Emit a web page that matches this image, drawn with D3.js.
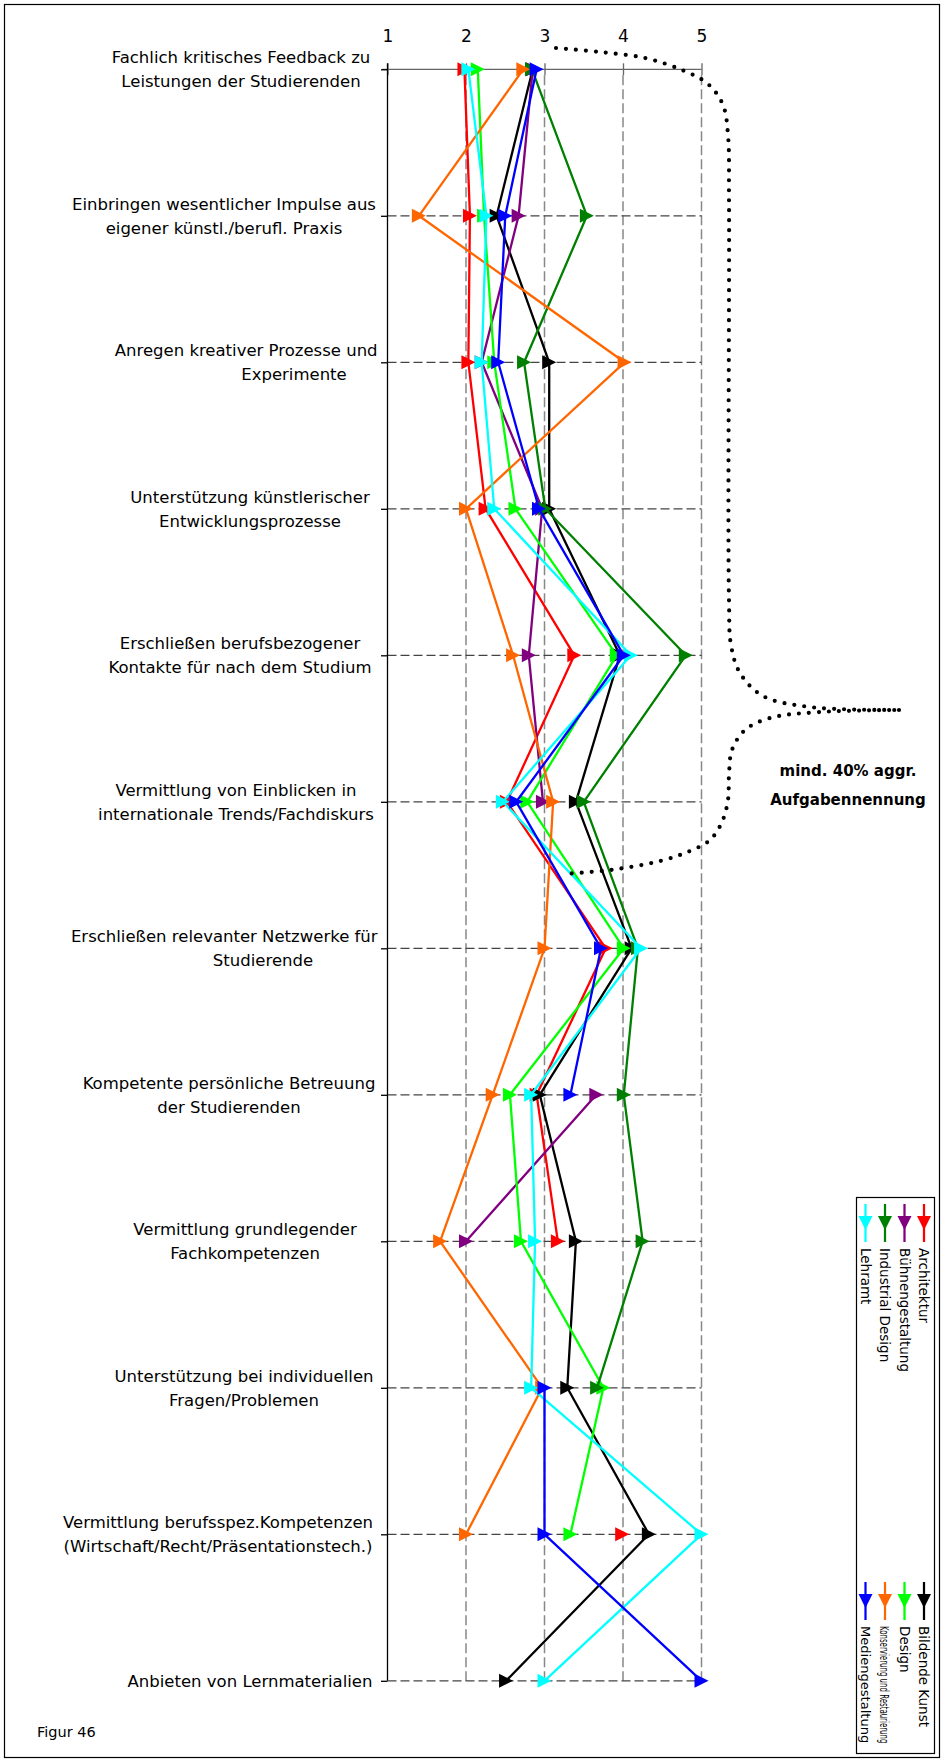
<!DOCTYPE html>
<html><head><meta charset="utf-8">
<script src="https://cdn.jsdelivr.net/npm/d3@7"></script>
<style>body{margin:0;background:#fff} svg{display:block} text{font-family:"DejaVu Sans",sans-serif}</style>
</head><body><svg id="c" width="944" height="1762"></svg>
<script>
const categories = [
  ["Fachlich kritisches Feedback zu", "Leistungen der Studierenden"],
  ["Einbringen wesentlicher Impulse aus", "eigener künstl./berufl. Praxis"],
  ["Anregen kreativer Prozesse und", "Experimente"],
  ["Unterstützung künstlerischer", "Entwicklungsprozesse"],
  ["Erschließen berufsbezogener", "Kontakte für nach dem Studium"],
  ["Vermittlung von Einblicken in", "internationale Trends/Fachdiskurs"],
  ["Erschließen relevanter Netzwerke für", "Studierende"],
  ["Kompetente persönliche Betreuung", "der Studierenden"],
  ["Vermittlung grundlegender", "Fachkompetenzen"],
  ["Unterstützung bei individuellen", "Fragen/Problemen"],
  ["Vermittlung berufsspez.Kompetenzen", "(Wirtschaft/Recht/Präsentationstech.)"],
  ["Anbieten von Lernmaterialien"]
];
const valueTicks = [1, 2, 3, 4, 5];
const seriesNames = ["Architektur", "Bildende Kunst", "Bühnengestaltung", "Design",
  "Industrial Design", "Konservierung und Restaurierung", "Lehramt", "Mediengestaltung"];
const seriesColors = ["#ff0000", "#000000", "#800080", "#00ff00", "#008000", "#ff6600", "#00ffff", "#0000ff"];

const architektur      = [1.98, 2.05, 2.03, 2.25, 3.38, 2.52, 3.78, 2.90, 3.17, null, 3.99, null];
const bildendeKunst    = [2.85, 2.39, 3.06, 3.06, 3.96, 3.40, 4.11, 2.94, 3.40, 3.29, 4.33, 2.51];
const buehnen          = [2.85, 2.67, 2.20, 2.97, 2.80, 2.98, null, 3.66, 2.00, null, null, null];
const design           = [2.15, 2.23, 2.36, 2.63, 3.92, 2.78, 4.01, 2.56, 2.70, 3.75, 3.33, null];
const industrialDesign = [2.84, 3.54, 2.74, 3.01, 4.80, 3.50, 4.19, 4.01, 4.25, 3.67, null, null];
const konservierung    = [2.73, 1.40, 4.02, 2.00, 2.60, 3.11, 3.00, 2.34, 1.67, 2.97, 2.00, null];
const lehramt          = [2.03, 2.26, 2.20, 2.36, 4.10, 2.47, 4.23, 2.83, 2.88, 2.83, 5.00, 3.00];
const medien           = [2.90, 2.50, 2.41, 2.93, 4.01, 2.64, 3.72, 3.33, null, 3.00, 3.00, 5.00];
const seriesValues = [architektur, bildendeKunst, buehnen, design, industrialDesign, konservierung, lehramt, medien];

const annotationLines = ["mind. 40% aggr.", "Aufgabennennung"];
const figureLabel = "Figur 46";

// layout only (screen pixels): horizontal centre of each category label block
const labelCenters = [241, 224, 294, 250, 240, 236, 263, 229, 245, 244, 218, 250];
// decorative dotted brace (screen coordinates)
const braceTop = [[556,48],[600,52],[645,58],[682,70],[708,84],[723,105],[728,135],[729,200],[729,600],[731,645],[740,673],[763,696],[810,707],[899,710]];
const braceBottom = [[899,710],[820,712],[770,718],[745,730],[732,750],[729,775],[728,800],[722,822],[710,840],[690,851],[660,861],[610,870],[562,874]];

const svg = d3.select("#c");
const x = d3.scaleLinear().domain([1, 5]).range([387.5, 701.5]);
const y = d3.scalePoint().domain(d3.range(categories.length)).range([69.3, 1680.8]);
const y0 = y(0), yN = y(categories.length - 1);

svg.append("rect").attr("x", 4.5).attr("y", 4.5).attr("width", 935).attr("height", 1753)
  .attr("fill", "none").attr("stroke", "#000").attr("stroke-width", 1.2);

// gridlines
svg.append("g").selectAll("line").data(valueTicks.slice(1)).join("line")
  .attr("x1", d => x(d)).attr("x2", d => x(d)).attr("y1", y0 + 6).attr("y2", yN)
  .attr("stroke", "#888").attr("stroke-width", 1.5).attr("stroke-dasharray", "10 4");
svg.append("g").selectAll("line").data(d3.range(1, categories.length)).join("line")
  .attr("x1", x(1)).attr("x2", x(5)).attr("y1", d => y(d)).attr("y2", d => y(d))
  .attr("stroke", "#444").attr("stroke-width", 1.3).attr("stroke-dasharray", "9 4");

// value axis (top)
svg.append("line").attr("x1", 382).attr("x2", x(5)).attr("y1", y0).attr("y2", y0)
  .attr("stroke", "#666").attr("stroke-width", 1.3);
const vAxis = svg.append("g").attr("transform", `translate(0,${y0 - 6})`)
  .call(d3.axisTop(x).tickValues(valueTicks).tickFormat(d3.format("d")).tickSize(-12).tickPadding(21.6));
vAxis.select(".domain").remove();
vAxis.selectAll(".tick line").attr("stroke", "#666").attr("stroke-width", 1.3);
vAxis.selectAll(".tick text").attr("font-size", 17).attr("font-family", "DejaVu Sans").attr("fill", "#000");

// category axis (left)
const cAxis = svg.append("g").attr("transform", `translate(${x(1)},0)`)
  .call(d3.axisLeft(y).tickSize(6.5).tickFormat(""));
cAxis.select(".domain").remove();
cAxis.selectAll(".tick line").attr("stroke", "#000").attr("stroke-width", 1.3);
svg.append("line").attr("x1", x(1)).attr("x2", x(1)).attr("y1", y0 - 6).attr("y2", yN)
  .attr("stroke", "#000").attr("stroke-width", 1.3);

// marker: right-pointing triangle, 14x14 bbox
const triRight = { draw(ctx, size) { const h = Math.sqrt(size) / 2; ctx.moveTo(-h, -h); ctx.lineTo(h, 0); ctx.lineTo(-h, h); ctx.closePath(); } };
const sym = d3.symbol().type(triRight).size(196);

const line = d3.line().defined(d => d != null).x(d => x(d)).y((d, i) => y(i));
seriesValues.forEach((vals, s) => {
  const g = svg.append("g");
  g.append("path").attr("d", line(vals)).attr("fill", "none")
    .attr("stroke", seriesColors[s]).attr("stroke-width", 2.3).attr("stroke-linejoin", "round");
  g.selectAll("path.m").data(vals.map((v, i) => ({ v, i })).filter(d => d.v != null)).join("path")
    .attr("class", "m").attr("d", sym)
    .attr("transform", d => `translate(${x(d.v)},${y(d.i)})`)
    .attr("fill", seriesColors[s]);
});

// category labels: each line centred on the label centre, pushed left if it passes labelRight
const labelRight = 377.6;
const lg = svg.append("g").attr("font-size", 16.5).attr("fill", "#000");
categories.forEach((lines, i) => {
  const t = lg.append("text").attr("text-anchor", "middle");
  const n = lines.length;
  lines.forEach((l, k) => {
    const sp = t.append("tspan").text(l);
    const w = sp.node().getComputedTextLength();
    sp.attr("x", Math.min(labelCenters[i], labelRight - w / 2))
      .attr("y", y(i) + 5.8 + (k - (n - 1) / 2) * 24);
  });
});

// annotation brace
const braceLine = d3.line().curve(d3.curveCatmullRom);
[braceTop, braceBottom].forEach(pts => svg.append("path").attr("d", braceLine(pts))
  .attr("fill", "none").attr("stroke", "#000").attr("stroke-width", 4.2)
  .attr("stroke-linecap", "round").attr("stroke-dasharray", "0 10"));
svg.append("g").selectAll("text").data(annotationLines).join("text")
  .attr("x", 848).attr("y", (d, i) => 776 + i * 29).attr("text-anchor", "middle")
  .attr("font-size", 15).attr("font-weight", "bold").text(d => d);

// legend (rotated 90deg)
const legTop = 1197.5, legBottom = 1753.5;
svg.append("rect").attr("x", 856.5).attr("y", legTop).attr("width", 78).attr("height", legBottom - legTop)
  .attr("fill", "#fff").attr("stroke", "#000").attr("stroke-width", 1.2);
const legStart = 1204, colGap = 378, textOff = 44;
const leg = svg.append("g").attr("transform", `translate(924,${legStart}) rotate(90)`);
seriesNames.forEach((name, s) => {
  const col = s % 2, row = Math.floor(s / 2);
  const g = leg.append("g").attr("transform", `translate(${col * colGap},${row * 19.5})`);
  g.append("line").attr("x1", 0).attr("x2", 38).attr("stroke", seriesColors[s]).attr("stroke-width", 2.25);
  g.append("path").attr("d", sym).attr("transform", "translate(19,0)").attr("fill", seriesColors[s]);
  const t = g.append("text").attr("x", textOff).attr("dy", "0.36em").attr("font-size", 13.5)
    .attr("font-family", "Liberation Sans").text(name);
  const avail = legBottom - 10 - (legStart + col * colGap + textOff);
  const w = t.node().getComputedTextLength();
  if (w > avail) {
    t.attr("font-size", 12.5);
    const w2 = t.node().getComputedTextLength(), k = avail / w2;
    t.attr("x", textOff / k).attr("transform", `scale(${k},1)`);
  }
});

svg.append("text").attr("x", 37).attr("y", 1737).attr("font-size", 14.5).text(figureLabel);
</script></body></html>
